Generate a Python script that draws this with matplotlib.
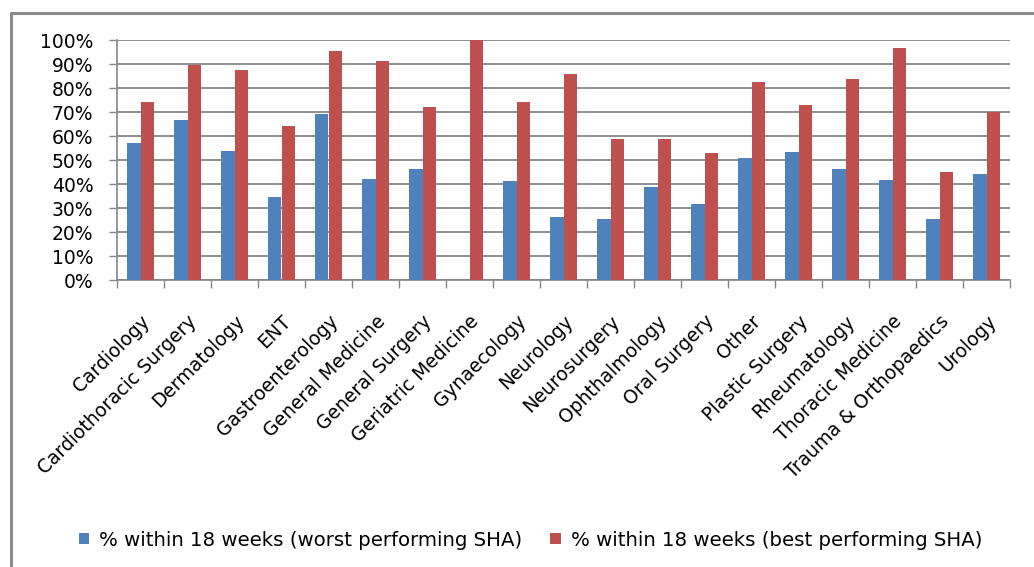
import numpy as np
import matplotlib.pyplot as plt
from matplotlib.lines import Line2D
from matplotlib.ticker import FuncFormatter, MultipleLocator

plt.rcParams['font.family'] = ['DejaVu Sans']

specialties = ["Cardiology", "Cardiothoracic Surgery", "Dermatology", "ENT",
               "Gastroenterology", "General Medicine", "General Surgery",
               "Geriatric Medicine", "Gynaecology", "Neurology", "Neurosurgery",
               "Ophthalmology", "Oral Surgery", "Other", "Plastic Surgery",
               "Rheumatology", "Thoracic Medicine", "Trauma & Orthopaedics", "Urology"]

# % of patients seen within 18 weeks
worst_sha = [57.1, 66.7, 53.8, 34.6, 69.3, 42.1, 46.3, 0.0, 41.3, 26.3,
             25.4, 38.8, 31.7, 50.8, 53.3, 46.3, 41.7, 25.4, 44.2]
best_sha = [74.2, 89.7, 87.5, 64.2, 95.4, 91.3, 72.1, 100.0, 74.2, 85.8,
            58.8, 58.8, 52.9, 82.5, 72.9, 83.8, 96.7, 45.0, 70.0]

labels = ["% within 18 weeks (worst performing SHA)",
          "% within 18 weeks (best performing SHA)"]

W, H = 1034, 567
fig = plt.figure(figsize=(W / 100, H / 100), dpi=100)
ax = fig.add_axes([117 / W, 1 - 280 / H, (1010 - 117) / W, 240 / H])

grey = "#868686"
x = np.arange(len(specialties))
bw = 0.2857
ax.bar(x - bw / 2, worst_sha, bw, color="#4F81BD", label=labels[0], zorder=3)
ax.bar(x + bw / 2, best_sha, bw, color="#C0504D", label=labels[1], zorder=3)

ax.set_xlim(-0.5, len(specialties) - 0.5)
ax.set_ylim(0, 100)
ax.yaxis.set_major_locator(MultipleLocator(10))
ax.yaxis.set_major_formatter(FuncFormatter(lambda v, p: f"{v:.0f}%"))
ax.grid(axis="y", color=grey, linewidth=1.3, zorder=0)

ax.set_xticks(x)
ax.set_xticklabels(specialties, rotation=45, ha="right", rotation_mode="anchor",
                   fontsize=13.5)
ax.set_xticks(np.arange(-0.5, len(specialties), 1), minor=True)
ax.tick_params(axis="x", which="major", length=0, pad=23)
ax.tick_params(axis="x", which="minor", length=6, color=grey, width=1)
ax.tick_params(axis="y", length=6, color=grey, width=1, labelsize=13.5, pad=11)

for s in ["top", "right"]:
    ax.spines[s].set_visible(False)
for s in ["left", "bottom"]:
    ax.spines[s].set_color(grey)
    ax.spines[s].set_linewidth(1.2)

fig.legend(loc="center", bbox_to_anchor=(0.513, 1 - 540 / H), ncol=2,
           frameon=False, fontsize=14.2, handlelength=0.55, handleheight=0.55,
           handletextpad=0.5, columnspacing=1.4)

# outer chart frame (only left and top edges visible)
fig.add_artist(Line2D([11 / W, 11 / W, 1.0], [0.0, 1 - 13 / H, 1 - 13 / H],
                      color="#8c8c8c", linewidth=2.2, transform=fig.transFigure))

fig.savefig("out.png", dpi=100)
